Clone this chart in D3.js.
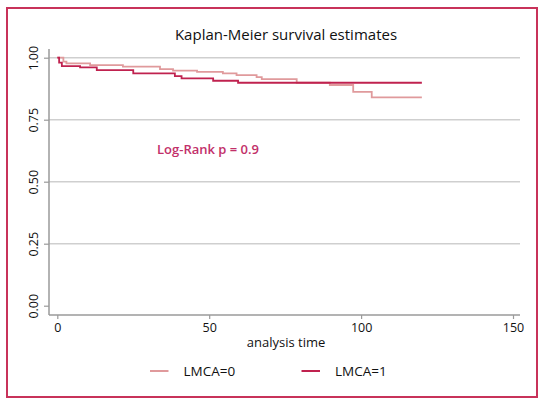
<!DOCTYPE html>
<html>
<head>
<meta charset="utf-8">
<script src="https://cdn.jsdelivr.net/npm/d3@7"></script>
<style>
  body { margin: 0; background: #fff; }
  svg { display: block; font-family: "Open Sans", "Noto Sans", sans-serif; }
</style>
</head>
<body>
<svg id="chart" width="547" height="406"></svg>
<script>
// step points (time, survival)
const lmca0Time = [0, 2, 3, 10.8, 21.6, 33.8, 38.1, 46, 54.5, 59, 65.6, 67.3, 78.8, 89.7, 97.4, 103.5, 120];
const lmca0Surv = [1, 0.984, 0.977, 0.970, 0.964, 0.954, 0.948, 0.943, 0.937, 0.930, 0.922, 0.914, 0.899, 0.890, 0.862, 0.840, 0.840];
const lmca1Time = [0, 0.6, 1.5, 7.5, 13, 25, 38.7, 40.9, 51.3, 59.5, 120];
const lmca1Surv = [1, 0.980, 0.966, 0.961, 0.950, 0.937, 0.926, 0.917, 0.907, 0.899, 0.899];
const xTicks = [0, 50, 100, 150];
const yTicks = [0, 0.25, 0.5, 0.75, 1];
const gridTicks = [0.25, 0.5, 0.75, 1];
const legendLabels = ["LMCA=0", "LMCA=1"];

const colors = {
    light: "#e09a9c",
    dark: "#c0224f",
    border: "#c8325a",
    axis: "#9a9a9a",
    grid: "#cfcfcf",
    note: "#c2306a",
    text: "#111"
};

const svg = d3.select("#chart");

const x = d3.scaleLinear().domain([0, 150]).range([57.3, 513]);
const y = d3.scaleLinear().domain([0, 1]).range([305.7, 57.7]);
const axisY = 315, axisX = 49, plotRight = 520;

// outer frame
svg.append("rect")
    .attr("x", 7).attr("y", 8)
    .attr("width", 530).attr("height", 389)
    .attr("fill", "none")
    .attr("stroke", colors.border)
    .attr("stroke-width", 2);

// title
svg.append("text")
    .attr("x", 286).attr("y", 40)
    .attr("text-anchor", "middle")
    .attr("font-size", 15)
    .attr("font-weight", 500)
    .attr("fill", colors.text)
    .text("Kaplan-Meier survival estimates");

// gridlines
svg.append("g").selectAll("line")
    .data(gridTicks)
    .join("line")
    .attr("x1", axisX).attr("x2", plotRight)
    .attr("y1", d => y(d)).attr("y2", d => y(d))
    .attr("stroke", colors.grid)
    .attr("stroke-width", 1.5);

// y axis
const yAxis = svg.append("g")
    .attr("transform", `translate(${axisX},0)`)
    .call(d3.axisLeft(y).tickValues(yTicks).tickSize(5).tickFormat(d3.format(".2f")).tickSizeOuter(0));
yAxis.select(".domain").remove();
yAxis.append("line")
    .attr("x1", 0).attr("x2", 0).attr("y1", 49).attr("y2", axisY)
    .attr("stroke", colors.axis).attr("stroke-width", 1.5);
yAxis.selectAll(".tick line").attr("stroke", colors.axis).attr("stroke-width", 1.2);
yAxis.selectAll(".tick text")
    .attr("x", 0).attr("dy", 0)
    .attr("transform", "translate(-11,0) rotate(-90)")
    .attr("text-anchor", "middle")
    .attr("font-size", 12.5)
    .attr("font-weight", 500)
    .attr("font-family", "Open Sans, sans-serif")
    .attr("fill", colors.text);

// x axis
const xAxis = svg.append("g")
    .attr("transform", `translate(0,${axisY})`)
    .call(d3.axisBottom(x).tickValues(xTicks).tickSize(4).tickSizeOuter(0));
xAxis.select(".domain").remove();
xAxis.append("line")
    .attr("x1", axisX).attr("x2", plotRight).attr("y1", 0).attr("y2", 0)
    .attr("stroke", colors.axis).attr("stroke-width", 1.5);
xAxis.selectAll(".tick line").attr("stroke", colors.axis).attr("stroke-width", 1.2);
xAxis.selectAll(".tick text")
    .attr("y", 8).attr("dy", "0.71em")
    .attr("font-size", 12.5)
    .attr("font-weight", 500)
    .attr("font-family", "Open Sans, sans-serif")
    .attr("fill", colors.text);

svg.append("text")
    .attr("x", 286).attr("y", 347)
    .attr("text-anchor", "middle")
    .attr("font-size", 13)
    .attr("font-weight", 500)
    .attr("fill", colors.text)
    .text("analysis time");

// survival curves
const line = d3.line()
    .x(d => x(d[0]))
    .y(d => y(d[1]))
    .curve(d3.curveStepAfter);

const series = [
    { pts: d3.zip(lmca0Time, lmca0Surv), color: colors.light },
    { pts: d3.zip(lmca1Time, lmca1Surv), color: colors.dark }
];

svg.append("g").selectAll("path")
    .data(series)
    .join("path")
    .attr("d", d => line(d.pts))
    .attr("fill", "none")
    .attr("stroke", d => d.color)
    .attr("stroke-width", 1.8);

// log-rank note
svg.append("text")
    .attr("x", 157).attr("y", 154)
    .attr("font-size", 13)
    .attr("font-weight", 600)
    .attr("fill", colors.note)
    .text("Log-Rank p = 0.9");

// legend
const legendX = [150, 301.5];
const legend = svg.append("g").selectAll("g")
    .data(legendLabels)
    .join("g")
    .attr("transform", (d, i) => `translate(${legendX[i]},371)`);
legend.append("line")
    .attr("x1", 0).attr("x2", 18.5)
    .attr("stroke", (d, i) => series[i].color)
    .attr("stroke-width", 2);
legend.append("text")
    .attr("x", 33.5).attr("y", 4.5)
    .attr("font-size", 13.5)
    .attr("font-weight", 500)
    .attr("fill", colors.text)
    .text(d => d);
</script>
</body>
</html>
